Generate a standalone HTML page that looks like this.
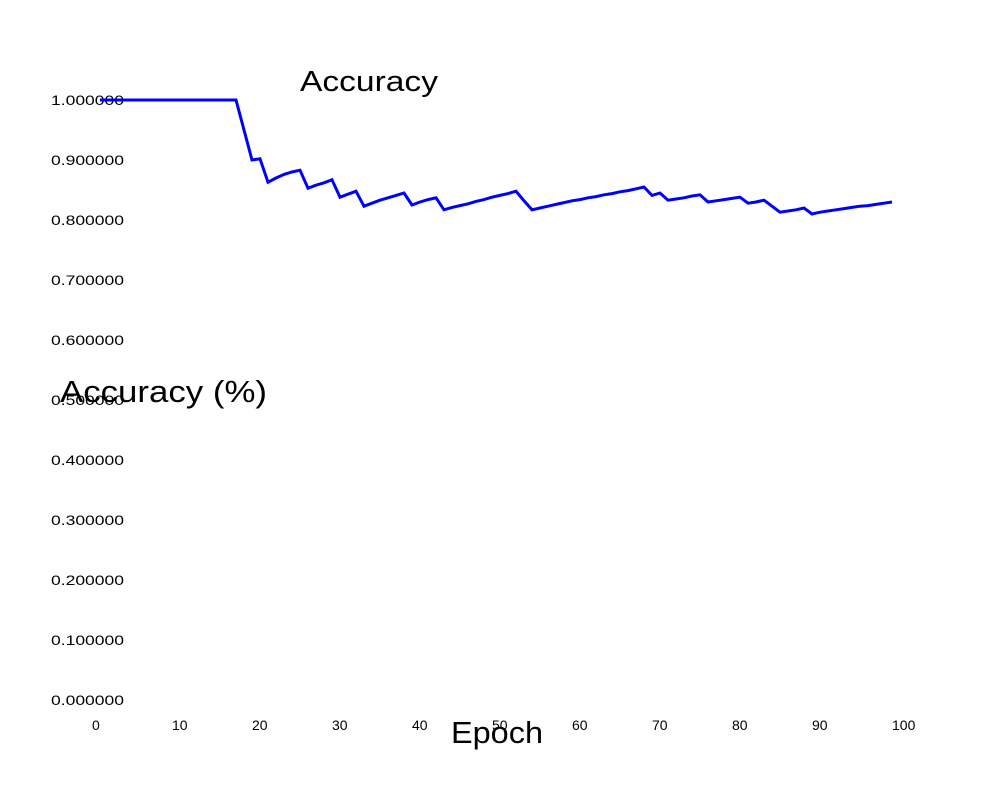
<!DOCTYPE html>
<html><head><meta charset="utf-8"><style>body{margin:0;background:#fff}svg{display:block}</style></head>
<body>
<svg id="chart" width="1000" height="800" viewBox="0 0 1000 800" font-family="Liberation Sans, sans-serif">
<rect width="1000" height="800" fill="#fff"/>
<text x="300" y="91" font-size="29" textLength="138" lengthAdjust="spacingAndGlyphs">Accuracy</text>
<g id="yticks"></g>
<g id="xticks"></g>
<text x="60" y="402" font-size="31" textLength="207" lengthAdjust="spacingAndGlyphs">Accuracy (%)</text>
<text x="451" y="743" font-size="31" textLength="92" lengthAdjust="spacingAndGlyphs">Epoch</text>
<polyline id="line" fill="none" stroke="#0000ff" stroke-width="3" stroke-linejoin="miter"/>
</svg>
<script>
const accuracy = [1,1,1,1,1,1,1,1,1,1,1,1,1,1,1,1,1,1,0.95,0.900,
0.902,0.863,0.870,0.876,0.880,0.883,0.853,0.858,0.862,0.867,
0.838,0.843,0.848,0.823,0.828,0.833,0.837,0.841,0.845,0.825,
0.830,0.834,0.837,0.817,0.821,0.824,0.827,0.831,0.834,0.838,
0.841,0.844,0.848,0.832,0.817,0.820,0.823,0.826,0.829,0.832,
0.834,0.837,0.839,0.842,0.844,0.847,0.849,0.852,0.855,0.841,
0.845,0.833,0.835,0.837,0.840,0.842,0.830,0.832,0.834,0.836,
0.838,0.828,0.830,0.833,0.823,0.813,0.815,0.817,0.820,0.810,
0.813,0.815,0.817,0.819,0.821,0.823,0.824,0.826,0.828,0.830];
const yTickValues = [0,0.1,0.2,0.3,0.4,0.5,0.6,0.7,0.8,0.9,1.0];
const xTickValues = [0,10,20,30,40,50,60,70,80,90,100];
const NS = "http://www.w3.org/2000/svg";
const xs = e => 100 + e * 8;
const ys = v => 700 - v * 600;
const yg = document.getElementById('yticks');
yTickValues.forEach(v => {
  const t = document.createElementNS(NS, 'text');
  
  
  t.setAttribute('x', 51); t.setAttribute('y', ys(v) + 5);
  t.setAttribute('font-size', '14');
  t.setAttribute('textLength', '73'); t.setAttribute('lengthAdjust', 'spacingAndGlyphs');
  t.textContent = v.toFixed(6);
  yg.appendChild(t);
});
const xg = document.getElementById('xticks');
xTickValues.forEach(v => {
  const t = document.createElementNS(NS, 'text');
  
  
  t.setAttribute('x', xs(v) - 8); t.setAttribute('y', 730);
  t.setAttribute('font-size', '14');
  t.textContent = String(v);
  xg.appendChild(t);
});
document.getElementById('line').setAttribute('points',
  accuracy.map((v, i) => xs(i) + ',' + ys(v)).join(' '));
</script>
</body></html>
